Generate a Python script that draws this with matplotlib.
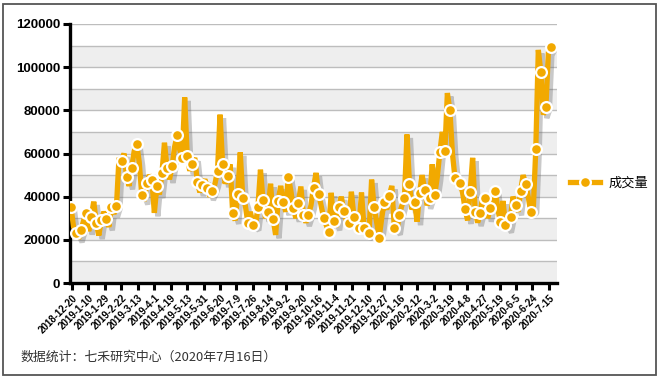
import matplotlib
matplotlib.use("Agg")
import matplotlib.pyplot as plt
import matplotlib.patheffects as pe
from matplotlib.patches import Rectangle
from matplotlib.lines import Line2D
import numpy as np

plt.rcParams['font.family'] = ['Liberation Sans', 'Noto Sans CJK SC', 'DejaVu Sans']

# 成交量 (sampled points; even entries carry markers)
marker_values = [
    35300, 23000, 24600, 32500, 30700, 27900, 29300, 29800, 35300, 35800,
    56700, 49300, 53500, 64600, 41000, 46500, 47900, 45100, 51000, 53500,
    54000, 68400, 57700, 59000, 55300, 47000, 45600, 44200, 42800, 52000,
    55300, 49800, 32500, 41400, 39500, 27900, 27000, 35300, 38600, 33000,
    29800, 38100, 37700, 49300, 34900, 37200, 31600, 31600, 44200, 41400,
    30200, 23700, 28800, 35300, 33500, 27900, 30700, 25600, 25600, 23300,
    35300, 21000, 37700, 40500, 25600, 31600, 39500, 46000, 37700, 41900,
    43300, 39500, 41000, 60500, 61000, 80000, 48800, 46500, 34400, 42300,
    33000, 32500, 39500, 34900, 42800, 28400, 27000, 30700, 36300, 42800,
    46000, 33000, 61900, 97700, 81400, 109300,
]
between_values = [
    26000, 20500, 29000, 24000, 37700, 22000, 33000, 26000, 32000, 58000,
    60000, 45000, 61000, 56000, 38000, 50000, 32500, 41000, 65000, 48000,
    63000, 62000, 86000, 52000, 58000, 42000, 48000, 40000, 46000, 78000,
    46000, 55000, 29000, 60500, 36000, 33000, 26000, 52500, 30000, 46000,
    22300, 45000, 33000, 43000, 30000, 44700, 28000, 36000, 51000, 36000,
    27000, 41800, 26000, 40000, 29000, 42300, 27000, 41900, 22000, 47900,
    28000, 30000, 34000, 45000, 24000, 36000, 68800, 34000, 28400, 50000,
    36000, 55000, 49000, 70000, 88000, 60000, 45000, 42000, 29000, 58000,
    28000, 40000, 30000, 40000, 34000, 38000, 25000, 40000, 33000, 50000,
    40000, 34000, 108000, 78000, 107000,
]
tick_labels = [
    "2018-12-20", "2019-1-10", "2019-1-29", "2019-2-22", "2019-3-13", "2019-4-1",
    "2019-4-19", "2019-5-13", "2019-5-31", "2019-6-20", "2019-7-9", "2019-7-26",
    "2019-8-14", "2019-9-2", "2019-9-20", "2019-10-16", "2019-11-4", "2019-11-21",
    "2019-12-10", "2019-12-27", "2020-1-16", "2020-2-12", "2020-3-2", "2020-3-19",
    "2020-4-8", "2020-4-27", "2020-5-19", "2020-6-5", "2020-6-24", "2020-7-15",
]
series_name = "成交量"

values = []
for i, v in enumerate(marker_values):
    values.append(v)
    if i < len(between_values):
        values.append(between_values[i])
values = np.array(values, dtype=float)
x = np.arange(len(values))

W, H = 660, 378
fig = plt.figure(figsize=(W / 100, H / 100), dpi=100)
fig.patch.set_facecolor('white')
ax = fig.add_axes([70 / W, 1 - 283 / H, (557 - 70) / W, (283 - 24) / H])

# outer frame
fig.patches.append(Rectangle((3 / W, 3 / H), 653 / W, 371 / H, transform=fig.transFigure,
                             fill=False, edgecolor='#555555', linewidth=1.3))

# bands
ymax = 120000
for k in range(0, 11, 2):
    ax.axhspan(k * 10000, k * 10000 + 10000, color='#EEEEEE', zorder=0, lw=0)
for k in range(1, 13):
    ax.axhline(k * 10000, color='#BDBDBD', lw=1.0, zorder=1)

orange = '#F2A900'
ln, = ax.plot(x, values, color=orange, lw=3.8, solid_joinstyle='bevel', zorder=3)
ln.set_path_effects([pe.SimpleLineShadow(offset=(2.5, -2.5), shadow_color='#666666', alpha=0.35),
                     pe.Normal()])
ax.plot(x[::2], values[::2], ls='none', marker='o', markersize=7.8,
        markerfacecolor=orange, markeredgecolor='white', markeredgewidth=1.6, zorder=4)

n = len(values)
ax.set_xlim(-0.4, n - 1 + 2.4)
ax.set_ylim(0, ymax)
yt = np.arange(0, ymax + 1, 20000)
ax.set_yticks(yt)
ax.set_yticklabels([str(int(v)) for v in yt], fontsize=9.5, fontweight='bold')
tick_pos = np.linspace(0.4, n - 1 - 0.8, len(tick_labels))
ax.set_xticks(tick_pos)
ax.set_xticklabels(tick_labels, rotation=45, ha='right', rotation_mode='anchor',
                   fontsize=7, fontweight='bold')
ax.tick_params(axis='y', direction='out', length=5, width=2.2, pad=2)
ax.tick_params(axis='x', direction='out', length=5, width=2.2, pad=2)

for s in ['top', 'right']:
    ax.spines[s].set_visible(False)
for s in ['left', 'bottom']:
    ax.spines[s].set_linewidth(2.4)
    ax.spines[s].set_color('black')
ax.set_facecolor('white')

handle = Line2D([], [], color=orange, lw=3.8, marker='o', markersize=7.8,
                markerfacecolor=orange, markeredgecolor='white', markeredgewidth=1.6)
fig.legend(handles=[handle], labels=[series_name], loc='center left',
           bbox_to_anchor=(570 / W, 1 - 183 / H), frameon=False, borderpad=0,
           borderaxespad=0, handlelength=2.3, handletextpad=0.6,
           prop={'family': ['Noto Sans CJK SC'], 'size': 9.5})

fig.text(20 / W, 1 - 357 / H, "数据统计：七禾研究中心（2020年7月16日）",
         fontsize=9.3, color='#333333', va='center', ha='left',
         family=['Noto Sans CJK SC', 'DejaVu Sans'])

fig.savefig('out.png', dpi=100, facecolor='white')
